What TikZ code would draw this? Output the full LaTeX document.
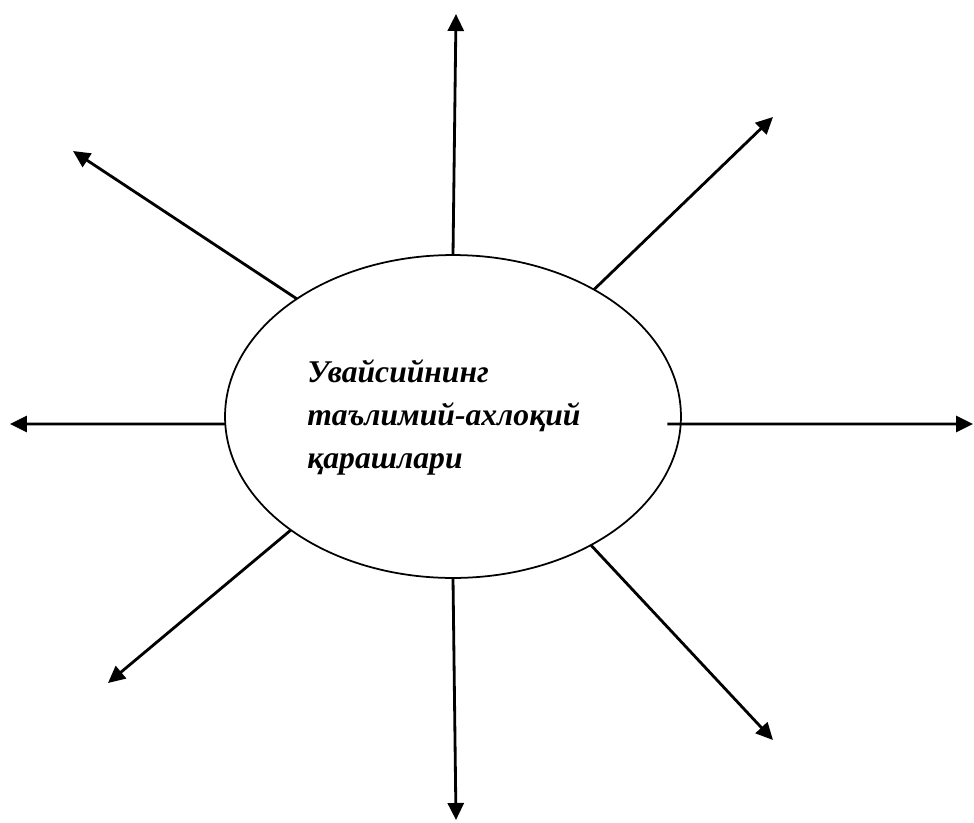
\documentclass[tikz,border=0pt]{standalone}
\usepackage{fontspec}
\setmainfont{Liberation Serif}
\usetikzlibrary{shapes.geometric, arrows.meta}

\tikzset{
    idea/.style={ellipse, draw, line width=1pt, minimum width=9.12cm,
        minimum height=6.46cm, inner sep=0pt, outer sep=0pt},
    idealabel/.style={align=left, inner sep=0pt, font=\fontsize{18}{24.2}\selectfont\bfseries\itshape},
    ray/.style={line width=1.6pt, -{Triangle[length=0.34cm, width=0.32cm]}}
}

\begin{document}
\begin{tikzpicture}[x=0.02cm, y=-0.02cm]
    \useasboundingbox (0,0) rectangle (974,822);

    % Centre
    \node[idea] (ell) at (453,416.5) {};
    \node[idealabel, anchor=base west] (lbl) at (307,468)
        {Увайсийнинг\\таълимий-ахлоқий\\қарашлари};

    % Arrow tips
    \coordinate (tipN)  at (456,14);
    \coordinate (tipNE) at (773,117);
    \coordinate (tipNW) at (73,151);
    \coordinate (tipW)  at (10,424);
    \coordinate (tipE)  at (973,424);
    \coordinate (tipSW) at (108,683);
    \coordinate (tipS)  at (456,820);
    \coordinate (tipSE) at (773,740);

    % Arrows out of the ellipse
    \foreach \ang/\tip in {90/tipN, 42.8/tipNE, 143/tipNW,
                           215.7/tipSW, 270/tipS, -43.4/tipSE} {
        \draw[ray] (ell.\ang) -- (\tip);
    }
    \draw[ray] ([yshift=-0.15cm]ell.west) -- (tipW);
    \draw[ray] ([xshift=-0.27cm, yshift=-0.15cm]ell.east) -- (tipE);
\end{tikzpicture}
\end{document}
